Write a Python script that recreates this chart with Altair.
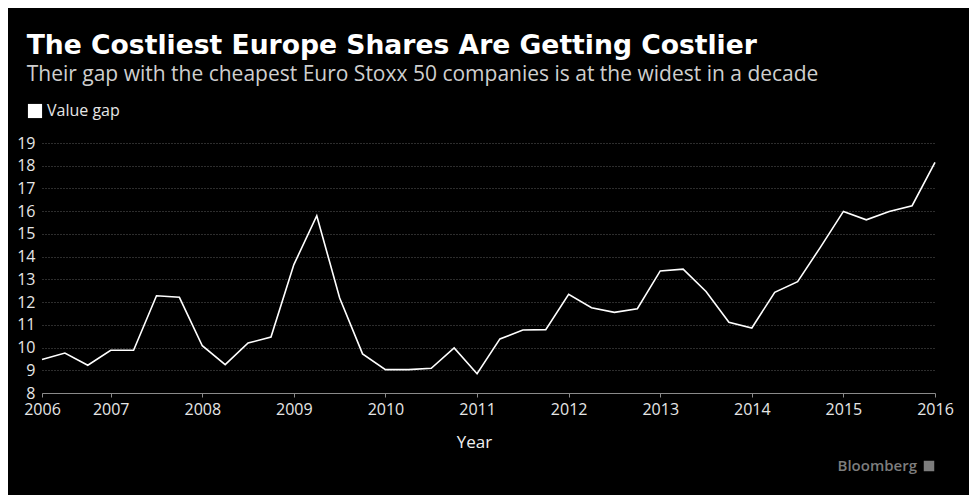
import altair as alt
import pandas as pd

quarters = [
    "2006-Q2", "2006-Q3", "2006-Q4", "2007-Q1", "2007-Q2", "2007-Q3", "2007-Q4",
    "2008-Q1", "2008-Q2", "2008-Q3", "2008-Q4", "2009-Q1", "2009-Q2", "2009-Q3",
    "2009-Q4", "2010-Q1", "2010-Q2", "2010-Q3", "2010-Q4", "2011-Q1", "2011-Q2",
    "2011-Q3", "2011-Q4", "2012-Q1", "2012-Q2", "2012-Q3", "2012-Q4", "2013-Q1",
    "2013-Q2", "2013-Q3", "2013-Q4", "2014-Q1", "2014-Q2", "2014-Q3", "2014-Q4",
    "2015-Q1", "2015-Q2", "2015-Q3", "2015-Q4", "2016-Q1",
]
value_gap = [
    9.47, 9.76, 9.22, 9.88, 9.88, 12.28, 12.21, 10.08, 9.25, 10.2, 10.46, 13.65,
    15.8, 12.18, 9.72, 9.03, 9.03, 9.09, 9.98, 8.85, 10.38, 10.77, 10.79, 12.34,
    11.75, 11.55, 11.71, 13.37, 13.45, 12.47, 11.11, 10.86, 12.43, 12.9, 14.42,
    15.99, 15.62, 15.99, 16.24, 18.15,
]
year_ticks = [2006.25, 2007, 2008, 2009, 2010, 2011, 2012, 2013, 2014, 2015, 2016]
y_ticks = [8, 9, 10, 11, 12, 13, 14, 15, 16, 17, 18, 19]

df = pd.DataFrame({"quarter": quarters, "value": value_gap})
df["year"] = [int(q[:4]) + (int(q[-1]) - 1) / 4 for q in quarters]
df["series"] = "Value gap"

FONT = "Open Sans"

line = alt.Chart(df).mark_line(strokeWidth=1.6, color="white").encode(
    x=alt.X("year:Q",
            scale=alt.Scale(domain=[2006.25, 2016], nice=False, zero=False),
            axis=alt.Axis(values=year_ticks, labelExpr="floor(datum.value)",
                          title="Year", titleX=432, titleAlign="center",
                          grid=False, domainColor="#8a8a8a",
                          tickColor="#8a8a8a", tickSize=4, labelFlush=False,
                          labelPadding=4, titlePadding=17, labelOverlap=False)),
    y=alt.Y("value:Q",
            scale=alt.Scale(domain=[8, 19], nice=False, zero=False),
            axis=alt.Axis(values=y_ticks, title=None, domain=False, ticks=False,
                          labelPadding=7, grid=True, gridColor="#5a5a5a",
                          gridDash=[1, 2], gridWidth=1)),
    color=alt.Color("series:N",
                    scale=alt.Scale(range=["white"]),
                    legend=alt.Legend(title=None, orient="none", legendX=-15,
                                      legendY=-40, symbolType="square",
                                      symbolSize=200, symbolFillColor="white",
                                      symbolStrokeWidth=0, labelFontSize=16,
                                      labelColor="#e6e6e6", labelFont=FONT,
                                      symbolOffset=0, labelOffset=4)),
)

brand = alt.Chart(pd.DataFrame({"t": ["Bloomberg"]})).mark_text(
    align="right", baseline="middle", font=FONT, fontSize=15, fontWeight=600,
    color="#7d7d7d"
).encode(text="t:N", x=alt.value(875), y=alt.value(323))

icon = alt.Chart(pd.DataFrame({"t": ["icon"]})).mark_square(
    size=110, color="#7d7d7d", opacity=1
).encode(x=alt.value(887), y=alt.value(323))

chart = alt.layer(line, brand, icon).properties(
    width=893, height=250,
    autosize=alt.AutoSizeParams(type="none"),
    padding={"left": 34, "top": 135, "right": 34, "bottom": 102},
    background="black",
    title=alt.TitleParams(
        "The Costliest Europe Shares Are Getting Costlier",
        subtitle="Their gap with the cheapest Euro Stoxx 50 companies is at the widest in a decade",
        anchor="start", dx=10, offset=18, font="DejaVu Sans", fontSize=26.6,
        fontWeight="bold", color="white", subtitleFont=FONT, subtitleFontSize=21,
        subtitleColor="#cfcfcf", subtitlePadding=4,
    ),
).configure_view(stroke=None).configure_axis(
    labelFont=FONT, labelFontSize=16, labelColor="#e6e6e6",
    titleFont=FONT, titleFontSize=17, titleColor="#f0f0f0", titleFontWeight="normal",
)

chart.save("out.html", embed_options={"renderer": "svg", "actions": False})
